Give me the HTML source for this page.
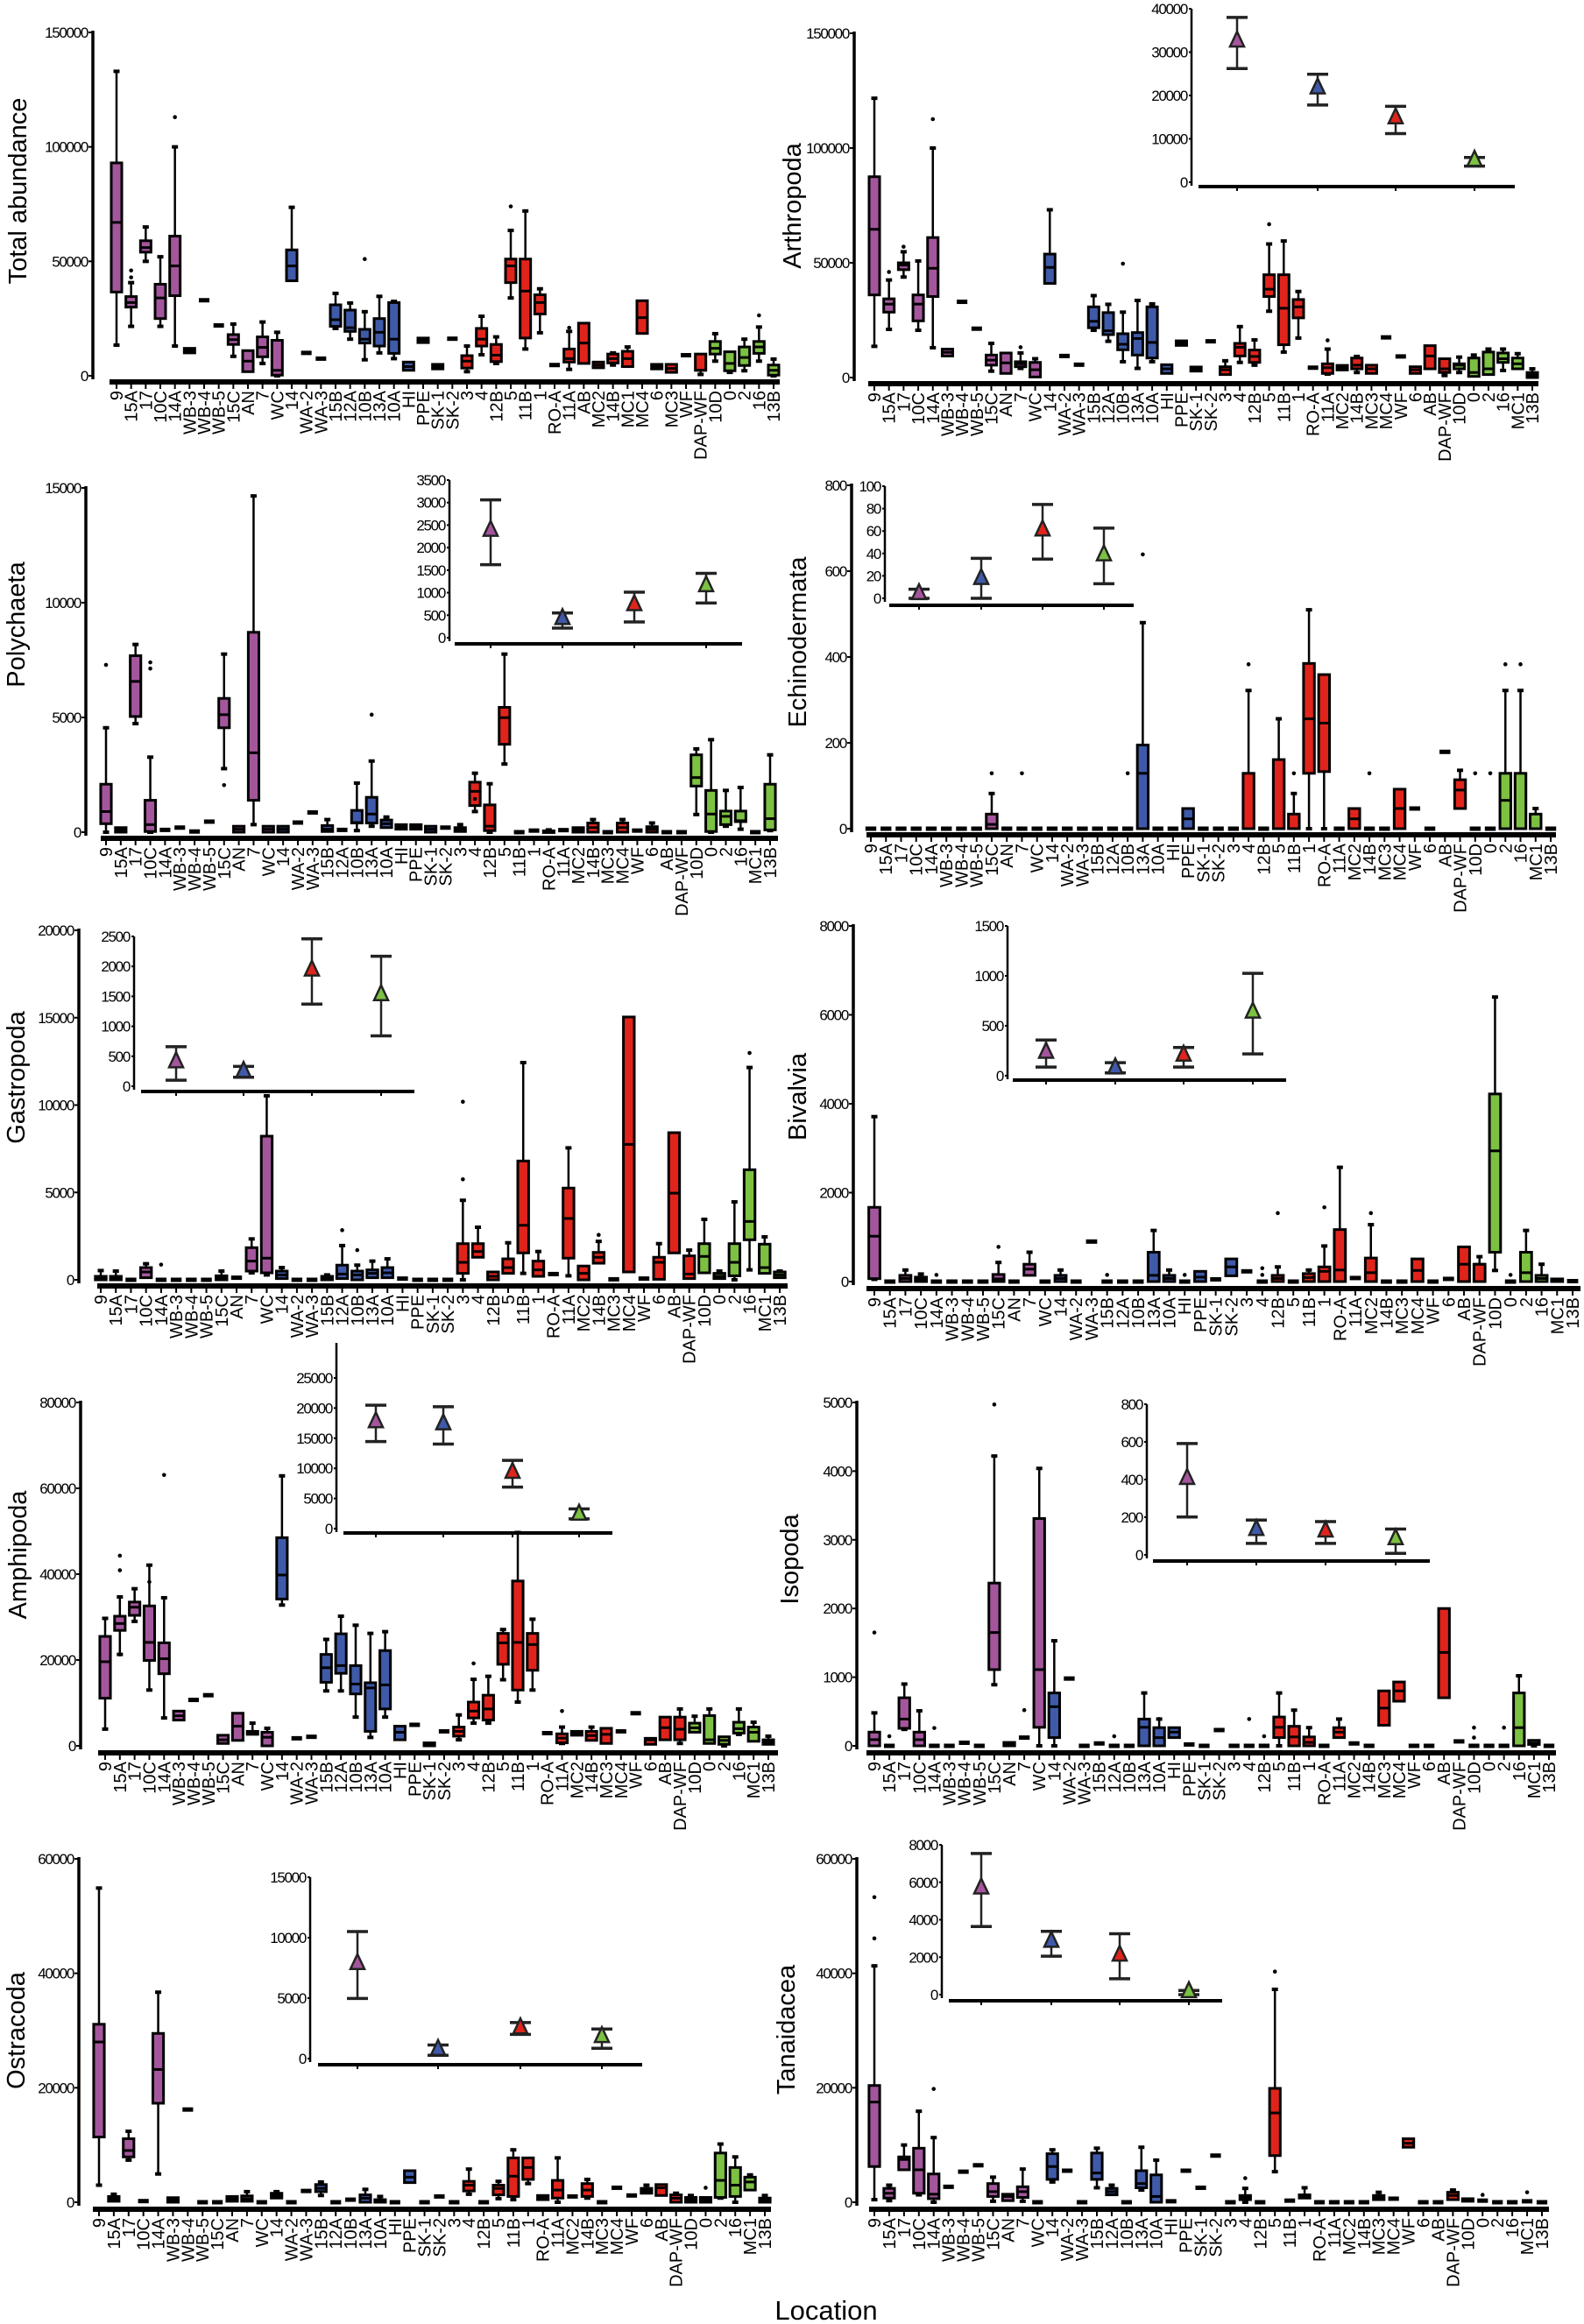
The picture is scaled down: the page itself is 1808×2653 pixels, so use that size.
<!DOCTYPE html>
<html><head><meta charset="utf-8"><title>Abundance by location</title>
<style>
html,body{margin:0;padding:0;background:#fff;}
svg{display:block;font-family:"Liberation Sans",sans-serif;}
</style></head>
<body>
<svg id="fig" xmlns="http://www.w3.org/2000/svg" width="1808" height="2653" viewBox="0 0 1808 2653">
<text x="943" y="2648" text-anchor="middle" font-size="31">Location</text>
</svg>
<script>
const catsA = ["9","15A","17","10C","14A","WB-3","WB-4","WB-5","15C","AN","7","WC","14","WA-2","WA-3","15B","12A","10B","13A","10A","HI","PPE","SK-1","SK-2","3","4","12B","5","11B","1","RO-A","11A","AB","MC2","14B","MC1","MC4","6","MC3","WF","DAP-WF","10D","0","2","16","13B"];
const catsB = ["9","15A","17","10C","14A","WB-3","WB-4","WB-5","15C","AN","7","WC","14","WA-2","WA-3","15B","12A","10B","13A","10A","HI","PPE","SK-1","SK-2","3","4","12B","5","11B","1","RO-A","11A","MC2","14B","MC3","MC4","WF","6","AB","DAP-WF","10D","0","2","16","MC1","13B"];

const p1Stats = [[13400,36600,67000,93000,133000],[21600,30000,32000,34600,40700],[50000,54000,56000,59000,65000],[21600,25000,34000,40000,52000],[13000,35000,48000,61000,100000],[10000,10000,11000,12000,12000],33000,22000,[8500,13700,15800,18000,22600],[1800,1800,6400,11000,11000],[5400,8300,12400,17000,23500],[0,300,2400,15500,19000],[41500,41500,48000,55000,73600],10000,7500,[20700,21600,24500,31000,36000],[16000,19400,21000,28700,31800],[7000,14300,16000,20300,28000],[10000,13000,19000,25000,34700],[7500,9800,16000,32000,32500],[2400,2400,4000,6000,6000],[14500,14500,15600,16500,16500],[3000,3000,4000,5000,5000],16200,[1800,3400,6400,8800,13000],[9200,13000,16000,20700,26000],[5400,6200,9000,13700,17000],[34000,40700,48000,51000,63500],[11700,16500,37000,51000,72000],[18800,27000,32000,35400,38000],4700,[2800,6000,7500,11700,19400],[5400,5400,14300,23000,23000],[3500,3500,4700,6000,6000],[4700,5600,7500,9500,10000],[4000,4000,7500,10700,12600],[18500,18500,25400,32800,32800],[3000,3000,4000,5000,5000],[1500,1500,3200,5000,5000],9000,[600,2400,2400,9500,9500],[6400,9500,12000,15000,18400],[1500,2200,5400,10500,10500],[2200,4500,8000,12600,16000],[6400,9800,12600,15000,21300],[0,300,2400,4700,7300]];
const p1Out = [[1,46000],[1,43000],[4,113000],[17,51000],[27,74000],[31,21000],[44,26400]];

const p2Stats = [[13600,36000,64600,87500,121700],[21000,28500,32000,34300,42500],[43800,47000,49000,50000,54800],[20600,24700,32000,36000,50800],[13000,35300,47600,61000,100000],[9400,9400,11000,12400,12400],33000,21300,[2800,5400,7600,9800,14900],[1800,1800,6400,10700,10700],[4000,4700,6000,6900,10700],[250,250,3400,6600,8200],[41000,41000,48000,53800,73100],9400,5600,[20600,21700,24500,30800,35700],[15800,18700,20400,28300,31900],[6900,12100,14500,19100,28500],[4000,9800,17000,19600,33600],[6900,8500,15300,30800,32100],[1800,1800,3800,5600,5600],[14000,14000,14900,16000,16000],[2800,2800,3700,4600,4600],15800,[1300,1300,3400,4700,7300],[6600,9400,13200,14900,22200],[5400,6600,9200,12000,16400],[28900,35300,38500,44800,58200],[11100,14300,30200,44800,59500],[17200,26000,30800,34000,37500],4300,[1500,1800,4300,6000,12400],[3300,3300,4300,5300,5300],[2200,3800,5400,8500,9200],[1800,1800,3800,5400,5400],17500,9200,[1800,1800,3400,4700,4700],[3800,3800,9400,13900,13900],[900,2200,3800,8200,8200],[2200,3800,5400,6000,8900],[500,500,2200,8500,9800],[1300,1300,3800,11100,12400],[3100,6600,8200,10700,12400],[3800,3800,6000,8500,10400],[0,0,1100,2200,3800]];
const p2Out = [[1,46000],[2,57000],[4,112600],[10,13200],[17,49600],[27,66800],[31,16200]];
const p2InsetMean = [32300,21500,14600,4800];
const p2InsetLow = [26200,17800,11200,3700];
const p2InsetHigh = [38000,24900,17500,5700];

const p3Stats = [[0,370,900,2090,4550],[0,0,100,200,200],[4730,5040,6570,7690,8180],[0,30,330,1390,3270],100,200,30,460,[2770,4550,5120,5830,7760],[0,0,130,260,260],[330,1390,3460,8710,14650],[0,0,130,260,260],[0,0,130,260,260],420,860,[30,30,130,290,550],100,[70,400,420,950,2140],[260,400,790,1520,3100],[200,200,370,530,660],[130,130,230,330,330],[130,130,230,330,330],[0,0,130,260,260],200,[30,30,100,200,330],[900,1160,1780,2180,2570],[0,70,260,1190,2110],[2970,3830,4990,5440,7760],0,70,[0,0,30,60,100],90,[0,0,100,200,200],[0,0,200,400,550],0,[0,0,200,400,550],70,[0,0,130,240,400],0,0,[770,2010,2380,3370,3630],[0,30,790,1820,4030],[260,330,690,920,1820],[130,460,500,920,1950],0,[70,100,590,2090,3370]];
const p3Out = [[0,7290],[3,7400],[3,7130],[8,2050],[18,5120],[25,1450]];
const p3InsetMean = [2360,400,710,1130];
const p3InsetLow = [1620,215,350,770];
const p3InsetHigh = [3060,550,1010,1430];

const p4Stats = [0,0,0,0,0,0,0,0,[0,0,10,34,82],0,0,0,0,0,0,0,0,0,[0,0,129,195,480],0,0,[0,0,23,47,47],0,0,0,[0,0,0,129,322],0,[0,0,0,161,256],[0,0,0,34,82],[0,129,256,385,510],[0,133,246,359,359],0,[0,0,23,47,47],0,0,[0,0,47,92,92],47,0,179,[47,47,90,114,136],0,0,[0,0,66,129,322],[0,0,0,129,322],[0,0,0,34,47],0];
const p4Out = [[8,129],[10,129],[17,129],[25,383],[28,129],[33,129],[40,129],[41,129],[42,383],[43,383],[18,639]];
const p4InsetMean = [3.2,16.7,60,37.8];
const p4InsetLow = [0,0,35,13];
const p4InsetHigh = [8.1,35.6,83.7,62.6];

const p5Stats = [[0,0,100,200,530],[0,0,100,200,500],0,[120,120,450,700,920],0,0,0,0,[0,0,100,230,500],120,[400,500,1070,1840,2340],[280,400,1240,8220,10530],[70,70,280,500,700],0,0,[0,0,100,200,280],[70,70,330,840,1960],[0,0,280,500,840],[120,120,370,570,1070],[120,120,400,700,1200],70,0,0,0,[0,370,1000,2070,4550],[1290,1290,1620,2070,3010],[0,0,200,450,450],[370,370,700,1200,2120],[370,1540,3120,6800,12430],[200,200,570,1070,1620],330,[230,1240,3510,5250,7550],[0,0,370,790,790],[950,950,1290,1570,2200],30,[450,450,7750,15040,15040],70,[30,30,1000,1290,2070],[1540,1540,4960,8420,8420],[70,70,330,1370,1700],[400,400,1340,2070,3460],[70,70,200,370,500],[0,230,1000,2070,4460],[570,2290,3340,6300,12150],[370,370,700,2040,2460],[120,120,280,450,500]];
const p5Out = [[4,870],[16,2840],[17,1700],[24,5750],[24,10190],[33,2570],[43,12980]];
const p5InsetMean = [390,230,1920,1510];
const p5InsetLow = [100,150,1370,840];
const p5InsetHigh = [660,330,2460,2170];

const p6Stats = [[50,66,1020,1670,3710],0,[0,0,70,140,260],[0,0,50,100,170],0,0,0,0,[0,0,60,160,430],0,[140,140,280,390,660],0,[0,0,70,140,260],0,900,0,0,0,[0,0,140,660,1150],[0,0,70,140,260],0,[0,0,100,230,230],50,[130,130,330,510,510],230,0,[0,0,70,140,330],0,[0,0,90,180,260],[0,0,230,330,800],[0,0,260,1170,2570],80,[0,0,200,530,1280],0,0,[0,0,250,510,510],0,60,[0,0,390,780,780],[0,0,390,390,560],[250,660,2940,4220,6400],0,[0,0,200,660,1150],[0,0,70,140,390],[0,0,30,60,60],10];
const p6Out = [[4,150],[8,780],[15,150],[20,150],[25,150],[25,300],[26,1540],[29,1670],[32,1540],[41,150]];
const p6InsetMean = [224,67,195,626];
const p6InsetLow = [87,29,87,218];
const p6InsetHigh = [358,131,283,1025];

const p7Stats = [[3900,11100,19600,25500,29700],[21300,26900,28500,30200,34700],[29000,30400,32300,33500,36600],[13000,19900,24100,32600,42100],[6500,16800,20300,24000,34500],[6000,6000,7000,8100,8100],10700,11800,[560,560,1400,2470,2470],[1270,1270,4580,7600,7600],[2680,2680,3000,3380,5290],[0,0,2000,3170,4090],[32800,34200,39800,48500,62900],1760,2110,[12800,14800,18200,21300,24800],[12800,16900,18700,26100,30200],[6700,12100,14400,18700,28100],[1970,3380,13500,14700,26200],[6700,8600,14200,22200,26600],[1410,1410,3170,4580,4580],4900,[0,0,350,700,700],3380,[1410,2250,3380,4370,7200],[5290,6500,8100,10200,15500],[5290,6000,8600,11800,16200],[15400,19000,24000,26200,27100],[10200,13000,24100,38400,49700],[13000,17600,23600,26200,29500],2960,[560,700,1800,2800,4370],[2470,2470,2900,3380,3380],[1270,1270,2400,3380,4370],[560,560,2680,4090,4090],3380,7600,[350,350,1400,1760,1760],[1410,1410,4230,6700,6700],[560,1410,3880,6700,8600],[3170,3170,4200,5290,6900],[560,560,1410,7050,8600],[0,350,1270,2110,2110],[2680,2960,4000,5500,8600],[1060,1060,3170,4370,5500],[350,350,860,1410,2250]];
const p7Out = [[1,21300],[1,40900],[1,44300],[3,38200],[4,63100],[25,19200],[31,8100]];
const p7InsetMean = [17550,17200,9150,2210];
const p7InsetLow = [14440,14030,6890,1610];
const p7InsetHigh = [20470,20220,11320,3270];

const p8Stats = [[0,0,90,200,480],0,[240,255,390,700,900],[0,0,90,200,510],0,0,45,0,[890,1110,1650,2370,4220],[0,0,25,50,50],120,[0,270,1110,3310,4040],[0,120,570,770,1530],980,0,35,0,0,[0,0,270,390,770],[0,0,120,265,390],[120,120,200,265,265],20,0,230,0,0,0,[0,120,270,420,770],[0,0,130,285,520],[0,0,50,130,265],0,[120,120,200,265,390],35,0,[300,300,550,800,800],[650,650,800,930,930],0,0,[700,700,1360,2000,2000],65,0,0,0,[0,0,265,770,1020],[0,20,40,80,80],0];
const p8Out = [[0,1650],[1,140],[4,260],[8,4970],[10,520],[16,140],[19,390],[25,390],[26,140],[40,120],[40,265],[42,265]];
const p8InsetMean = [400,129,121,80];
const p8InsetLow = [201,61,61,8];
const p8InsetHigh = [591,185,177,137];

const p9Stats = [[2980,11400,28000,31100,54900],[170,170,600,1010,1400],[7360,7920,9040,11100,12400],200,[4940,17300,23200,29500,36700],[0,0,400,800,800],16200,0,0,[170,170,600,1010,1010],[170,170,600,1110,1850],0,[730,730,1150,1570,1850],0,1970,[1180,1850,2420,3090,3540],0,450,[0,0,700,1290,2250],[0,0,300,450,1010],0,[3430,3430,4380,5510,5510],0,1010,0,[1400,1970,2980,3650,5790],0,[620,1290,2420,2980,3650],[450,1010,4550,7750,9160],[3260,3990,6070,7750,7750],[450,450,800,1180,1180],[0,730,2130,3820,7750],1010,[730,1010,2130,3260,3990],0,2530,1180,[1570,1570,2000,2420,2980],[1180,1180,2530,3090,3090],[0,0,700,1290,1570],[0,0,450,840,1180],[0,0,450,840,840],[730,840,3820,8600,10170],[0,1010,2980,6070,7920],[2130,2130,3540,4380,4780],[0,0,400,730,1180]];
const p9Out = [[41,2530]];
const p9InsetMean = [7770,670,2450,1730];
const p9InsetLow = [4970,270,2000,850];
const p9InsetHigh = [10510,1120,2980,2450];

const p10Stats = [[450,6240,17500,20400,41300],[280,730,1570,2420,2980],[5670,5670,7470,7920,10000],[1290,1570,5670,9440,15900],[0,620,1400,4940,11300],2700,5340,6460,[170,1010,1850,3260,4380],[280,280,1010,1400,1400],[170,840,1850,2700,5790],0,[3540,3990,6240,8480,9160],5510,0,[2530,3990,5110,8600,9440],[1290,1290,1850,2420,2980],0,[2130,2530,3260,5510,9610],[0,0,1010,4780,7360],170,5510,2530,8150,0,[0,450,800,1180,2420],0,[5340,8150,15600,19900,37200],280,[730,730,1000,1290,2530],0,0,0,0,[450,450,800,1180,1740],620,[9610,9610,10300,11100,11100],0,0,[450,450,1180,1740,2130],[170,170,400,620,620],280,0,0,170,0];
const p10Out = [[0,46100],[0,53300],[4,19800],[25,4210],[27,40300],[41,1290],[44,1740]];
const p10InsetMean = [5640,2790,2050,100];
const p10InsetLow = [3640,2050,850,0];
const p10InsetHigh = [7540,3380,3250,220];

const p1Ticks=[0,50000,100000,150000], p2Ticks=[0,50000,100000,150000], p3Ticks=[0,5000,10000,15000], p4Ticks=[0,200,400,600,800], p5Ticks=[0,5000,10000,15000,20000], p6Ticks=[0,2000,4000,6000,8000], p7Ticks=[0,20000,40000,60000,80000], p8Ticks=[0,1000,2000,3000,4000,5000], p9Ticks=[0,20000,40000,60000], p10Ticks=[0,20000,40000,60000];
const p2InsetTicks=[0,10000,20000,30000,40000], p3InsetTicks=[0,500,1000,1500,2000,2500,3000,3500], p4InsetTicks=[0,20,40,60,80,100], p5InsetTicks=[0,500,1000,1500,2000,2500], p6InsetTicks=[0,500,1000,1500], p7InsetTicks=[0,5000,10000,15000,20000,25000], p8InsetTicks=[0,200,400,600,800], p9InsetTicks=[0,5000,10000,15000], p10InsetTicks=[0,2000,4000,6000,8000];

const COLORS = {p:"#a4569c", b:"#3f5aa8", r:"#e0241c", g:"#7cc142"};
const svg = document.getElementById('fig');
const NS = "http://www.w3.org/2000/svg";
function mk(tag, attrs, parent){const e=document.createElementNS(NS,tag);for(const k in attrs)e.setAttribute(k,attrs[k]);(parent||svg).appendChild(e);return e;}

const panels = [
 {id:"total-abundance",title:"Total abundance",cats:catsA,stats:p1Stats,out:p1Out,ticks:p1Ticks,max:150000,ax:106,y0:429,yt:37,lx1:125,lx2:890,ly:436,c0:133,c1:883,tx:30,ty:218,greenStart:41},
 {id:"arthropoda",title:"Arthropoda",cats:catsB,stats:p2Stats,out:p2Out,ticks:p2Ticks,max:150000,ax:975,y0:431,yt:38,lx1:991,lx2:1756,ly:438,c0:998,c1:1749,tx:914,ty:235,
  inset:{mean:p2InsetMean,low:p2InsetLow,high:p2InsetHigh,ticks:p2InsetTicks,max:40000,ax:1360,y0:208,yt:10,top:10,ly:213,lx1:1368,lx2:1729,px:[1412,1504,1593,1683]}},
 {id:"polychaeta",title:"Polychaeta",cats:catsB,stats:p3Stats,out:p3Out,ticks:p3Ticks,max:15000,ax:98,y0:950,yt:557,lx1:115,lx2:888,ly:957,c0:121,c1:879,tx:28,ty:713,
  inset:{mean:p3InsetMean,low:p3InsetLow,high:p3InsetHigh,ticks:p3InsetTicks,max:3500,ax:513,y0:728,yt:548,top:548,ly:735,lx1:519,lx2:847,px:[560,642,724,806]}},
 {id:"echinodermata",title:"Echinodermata",cats:catsB,stats:p4Stats,out:p4Out,ticks:p4Ticks,max:800,ax:972,y0:946,yt:554,lx1:989,lx2:1776,ly:953,c0:994,c1:1770,tx:920,ty:733,
  inset:{mean:p4InsetMean,low:p4InsetLow,high:p4InsetHigh,ticks:p4InsetTicks,max:100,ax:1010,y0:683,yt:555,top:555,ly:691,lx1:1015,lx2:1294,px:[1049,1120,1190,1260]}},
 {id:"gastropoda",title:"Gastropoda",cats:catsB,stats:p5Stats,out:p5Out,ticks:p5Ticks,max:20000,ax:90,y0:1461,yt:1062,lx1:111,lx2:899,ly:1468,c0:115,c1:890,tx:28,ty:1230,
  inset:{mean:p5InsetMean,low:p5InsetLow,high:p5InsetHigh,ticks:p5InsetTicks,max:2500,ax:153,y0:1240,yt:1069,top:1069,ly:1246,lx1:161,lx2:473,px:[201,278,356,435]}},
 {id:"bivalvia",title:"Bivalvia",cats:catsB,stats:p6Stats,out:p6Out,ticks:p6Ticks,max:8000,ax:974,y0:1463,yt:1057,lx1:989,lx2:1804,ly:1471,c0:998,c1:1795,tx:920,ty:1252,
  inset:{mean:p6InsetMean,low:p6InsetLow,high:p6InsetHigh,ticks:p6InsetTicks,max:1500,ax:1150,y0:1228,yt:1057,top:1057,ly:1233,lx1:1156,lx2:1468,px:[1194,1273,1351,1430]}},
 {id:"amphipoda",title:"Amphipoda",cats:catsB,stats:p7Stats,out:p7Out,ticks:p7Ticks,max:80000,ax:92,y0:1993,yt:1601,lx1:112,lx2:888,ly:2001,c0:120,c1:877,tx:30,ty:1775,
  inset:{mean:p7InsetMean,low:p7InsetLow,high:p7InsetHigh,ticks:p7InsetTicks,max:25000,ax:384,y0:1745,yt:1573,top:1533,ly:1750,lx1:392,lx2:699,px:[429,506,585,661]}},
 {id:"isopoda",title:"Isopoda",cats:catsB,stats:p8Stats,out:p8Out,ticks:p8Ticks,max:5000,ax:978,y0:1993,yt:1601,lx1:989,lx2:1776,ly:2001,c0:998,c1:1768,tx:911,ty:1780,
  inset:{mean:p8InsetMean,low:p8InsetLow,high:p8InsetHigh,ticks:p8InsetTicks,max:800,ax:1309,y0:1775,yt:1603,top:1603,ly:1782,lx1:1316,lx2:1632,px:[1355,1434,1513,1593]}},
 {id:"ostracoda",title:"Ostracoda",cats:catsB,stats:p9Stats,out:p9Out,ticks:p9Ticks,max:60000,ax:90,y0:2514,yt:2122,lx1:106,lx2:880,ly:2522,c0:113,c1:873,tx:28,ty:2318,
  inset:{mean:p9InsetMean,low:p9InsetLow,high:p9InsetHigh,ticks:p9InsetTicks,max:15000,ax:354,y0:2350,yt:2143,top:2143,ly:2357,lx1:363,lx2:733,px:[408,500,594,687]}},
 {id:"tanaidacea",title:"Tanaidacea",cats:catsB,stats:p10Stats,out:p10Out,ticks:p10Ticks,max:60000,ax:978,y0:2514,yt:2122,lx1:992,lx2:1768,ly:2522,c0:998,c1:1760,tx:907,ty:2317,
  inset:{mean:p10InsetMean,low:p10InsetLow,high:p10InsetHigh,ticks:p10InsetTicks,max:8000,ax:1075,y0:2277,yt:2106,top:2106,ly:2284,lx1:1083,lx2:1395,px:[1120,1200,1278,1357]}}
];
const insetColors=[COLORS.p,COLORS.b,COLORS.r,COLORS.g];

function fmtTick(v){return String(v);}

panels.forEach(P=>{
  const g = mk('g',{});
  
  
  const ys = v => P.y0 - v/P.max*(P.y0-P.yt);
  const step = (P.c1-P.c0)/(P.cats.length-1);
  const xs = i => P.c0 + i*step;
  const bw = step*0.72;
  const gs = P.greenStart||40;
  const yl = mk('line',{x1:P.ax,y1:P.y0+4,x2:P.ax,y2:P.yt-2,stroke:'#000','stroke-width':3.5},g);
   
  P.ticks.forEach(t=>{
    const y=ys(t);
    mk('line',{x1:P.ax-5,y1:y,x2:P.ax,y2:y,stroke:'#000','stroke-width':2},g);
    const tl=mk('text',{x:P.ax-6,y:y+6,'text-anchor':'end','font-size':17,'letter-spacing':'-1.3'},g);
    tl.textContent=fmtTick(t);
     
  });
  const tt=mk('text',{x:P.tx,y:P.ty,'text-anchor':'middle','font-size':29,transform:`rotate(-90 ${P.tx} ${P.ty})`},g);
  tt.textContent=P.title;
   
  const xl=mk('line',{x1:P.lx1,y1:P.ly,x2:P.lx2,y2:P.ly,stroke:'#000','stroke-width':6},g);
   
  P.cats.forEach((c,i)=>{
    const x=xs(i);
    mk('line',{x1:x,y1:P.ly,x2:x,y2:P.ly+8,stroke:'#000','stroke-width':2},g);
    const ty=P.ly+10;
    const lab=mk('text',{x:x+7,y:ty,'text-anchor':'end','font-size':20,transform:`rotate(-90 ${x+7} ${ty})`},g);
    lab.textContent=c;
     
  });
  P.stats.forEach((s,i)=>{
    if(s===null) return;
    const x=xs(i);
    const bg=mk('g',{},g);
    
    
    if(typeof s==='number'){
      mk('rect',{x:x-bw/2,y:ys(s)-2.5,width:bw,height:5,fill:'#000'},bg);
      return;
    }
    const [lo,q1,md,q3,hi]=s;
    const col = i<12?COLORS.p:(i<24?COLORS.b:(i<gs?COLORS.r:COLORS.g));
    if(hi>q3){mk('line',{x1:x,y1:ys(q3),x2:x,y2:ys(hi),stroke:'#000','stroke-width':2.5},bg);
      mk('line',{x1:x-3.5,y1:ys(hi),x2:x+3.5,y2:ys(hi),stroke:'#000','stroke-width':4},bg);}
    if(lo<q1){mk('line',{x1:x,y1:ys(q1),x2:x,y2:ys(lo),stroke:'#000','stroke-width':2.5},bg);
      mk('line',{x1:x-3.5,y1:ys(lo),x2:x+3.5,y2:ys(lo),stroke:'#000','stroke-width':4},bg);}
    const top=ys(q3), bot=ys(q1);
    mk('rect',{x:x-bw/2,y:top,width:bw,height:Math.max(bot-top,2),fill:col,stroke:'#000','stroke-width':3},bg);
    mk('line',{x1:x-bw/2,y1:ys(md),x2:x+bw/2,y2:ys(md),stroke:'#000','stroke-width':3},bg);
  });
  P.out.forEach(o=>{
    const c=mk('circle',{cx:xs(o[0]),cy:ys(o[1]),r:2.3,fill:'#000'},g);
     
  });
  if(P.inset){
    const I=P.inset;
    const ig=mk('g',{},g);
    
    
    const yi = v => I.y0 - v/I.max*(I.y0-I.yt);
    mk('line',{x1:I.ax,y1:I.y0+4,x2:I.ax,y2:I.top,stroke:'#000','stroke-width':2.5},ig);
    I.ticks.forEach(t=>{
      const y=yi(t);
      mk('line',{x1:I.ax-3,y1:y,x2:I.ax,y2:y,stroke:'#000','stroke-width':2},ig);
      const tl=mk('text',{x:I.ax-5,y:y+6,'text-anchor':'end','font-size':17,'letter-spacing':'-1.3'},ig);
      tl.textContent=fmtTick(t);
       
    });
    mk('line',{x1:I.lx1,y1:I.ly,x2:I.lx2,y2:I.ly,stroke:'#000','stroke-width':4},ig);
    I.mean.forEach((m,k)=>{
      const x=I.px[k];
      mk('line',{x1:x,y1:I.ly,x2:x,y2:I.ly+5,stroke:'#000','stroke-width':2},ig);
      const eg=mk('g',{},ig);
      
      
      const yl2=yi(I.low[k]), yh=yi(I.high[k]), ym=yi(m);
      mk('line',{x1:x,y1:yl2,x2:x,y2:yh,stroke:'#222','stroke-width':2.5},eg);
      mk('line',{x1:x-12,y1:yh,x2:x+12,y2:yh,stroke:'#222','stroke-width':3.5},eg);
      mk('line',{x1:x-12,y1:yl2,x2:x+12,y2:yl2,stroke:'#222','stroke-width':3.5},eg);
      mk('polygon',{points:`${x},${ym-12} ${x-8},${ym+5} ${x+8},${ym+5}`,fill:insetColors[k],stroke:'#222','stroke-width':2.5},eg);
    });
  }
});
</script>
</body></html>
